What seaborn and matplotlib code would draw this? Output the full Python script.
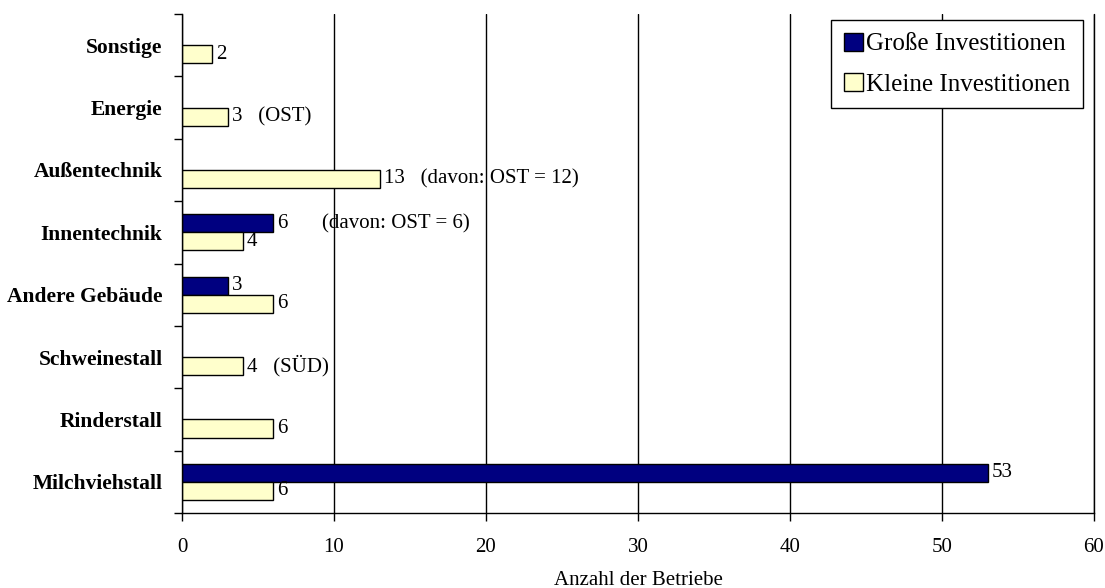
import pandas as pd
import numpy as np
import matplotlib
matplotlib.use('Agg')
import matplotlib.pyplot as plt
from matplotlib.patches import Patch
import seaborn as sns

# Chart data (top to bottom)
categories = ['Sonstige', 'Energie', 'Außentechnik', 'Innentechnik',
              'Andere Gebäude', 'Schweinestall', 'Rinderstall', 'Milchviehstall']
gross = [0, 0, 0, 6, 3, 0, 0, 53]
klein = [2, 3, 13, 4, 6, 4, 6, 6]
series = ['Große Investitionen', 'Kleine Investitionen']
colors = ['#000080', '#FFFFCC']

# notes written after the value labels
klein_notes = ['', '(OST)', '(davon: OST = 12)', '', '', '(SÜD)', '', '']
gross_note = '(davon: OST = 6)'

df = pd.DataFrame({
    'Kategorie': categories * 2,
    'Anzahl': gross + klein,
    'Art': [series[0]] * len(categories) + [series[1]] * len(categories),
})

sns.set_style('white')
plt.rcParams['font.family'] = ['Liberation Serif', 'DejaVu Serif']
plt.rcParams.update({'text.color': 'black', 'axes.labelcolor': 'black',
                     'xtick.color': 'black', 'ytick.color': 'black'})

fig = plt.figure(figsize=(11.05, 5.88), dpi=100)
ax = fig.add_axes([182 / 1105, 1 - 513 / 588, (1094 - 182) / 1105, (513 - 14) / 588])

sns.barplot(data=df, y='Kategorie', x='Anzahl', hue='Art', order=categories,
            hue_order=series, palette=dict(zip(series, colors)), legend=False,
            saturation=1, orient='h', width=0.58, edgecolor='black', linewidth=1, ax=ax)

# hide empty bars (their edges would show at x=0)
for cont in ax.containers:
    for p in cont.patches:
        if p.get_width() == 0:
            p.set_visible(False)

# value labels
fs = 15
g_labels = [str(v) if v else '' for v in gross]
k_labels = [(str(v) + ('   ' + n if n else '')) if v else '' for v, n in zip(klein, klein_notes)]
ax.bar_label(ax.containers[0], labels=g_labels, padding=3, fontsize=fs, color='black')
ax.bar_label(ax.containers[1], labels=k_labels, padding=3, fontsize=fs, color='black')
i = categories.index('Innentechnik')
ax.text(9.2, i - 0.13, gross_note, fontsize=fs, va='center', ha='left', color='black')

ax.set_xlim(0, 60)
ax.set_xticks(np.arange(0, 61, 10))
ax.set_ylim(len(categories) - 0.5, -0.5)
ax.xaxis.grid(True, color='black', linewidth=1)
ax.axvline(60, color='black', linewidth=1, clip_on=False, zorder=0)
ax.set_axisbelow(True)

for s in ['top', 'right']:
    ax.spines[s].set_visible(False)
for s in ['left', 'bottom']:
    ax.spines[s].set_color('black')
    ax.spines[s].set_linewidth(1)

ax.set_yticks(np.arange(len(categories) + 1) - 0.5, minor=True)
ax.tick_params(axis='y', which='major', length=0, pad=14, labelsize=15.5, labelcolor='black')
ax.tick_params(axis='y', which='minor', length=6, width=1, color='black', direction='out', left=True)
ax.tick_params(axis='x', which='major', length=6, width=1, color='black', direction='out',
               bottom=True, pad=12, labelsize=fs, labelcolor='black')
for lab in ax.get_yticklabels():
    lab.set_fontweight('bold')

ax.set_ylabel('')
ax.set_xlabel('Anzahl der Betriebe', fontsize=fs, labelpad=10, color='black')

handles = [Patch(facecolor=c, edgecolor='black', linewidth=1) for c in colors]
leg = ax.legend(handles, series, loc='upper right', bbox_to_anchor=(1083 / 1105, 1 - 20 / 588),
                bbox_transform=fig.transFigure, fontsize=18, frameon=True, fancybox=False,
                edgecolor='black', framealpha=1, handlelength=0.75, handleheight=0.75,
                handletextpad=0.15, borderpad=0.5, labelspacing=0.7, borderaxespad=0,
                labelcolor='black')
leg.get_frame().set_linewidth(1)

fig.savefig('out.png', dpi=100)
